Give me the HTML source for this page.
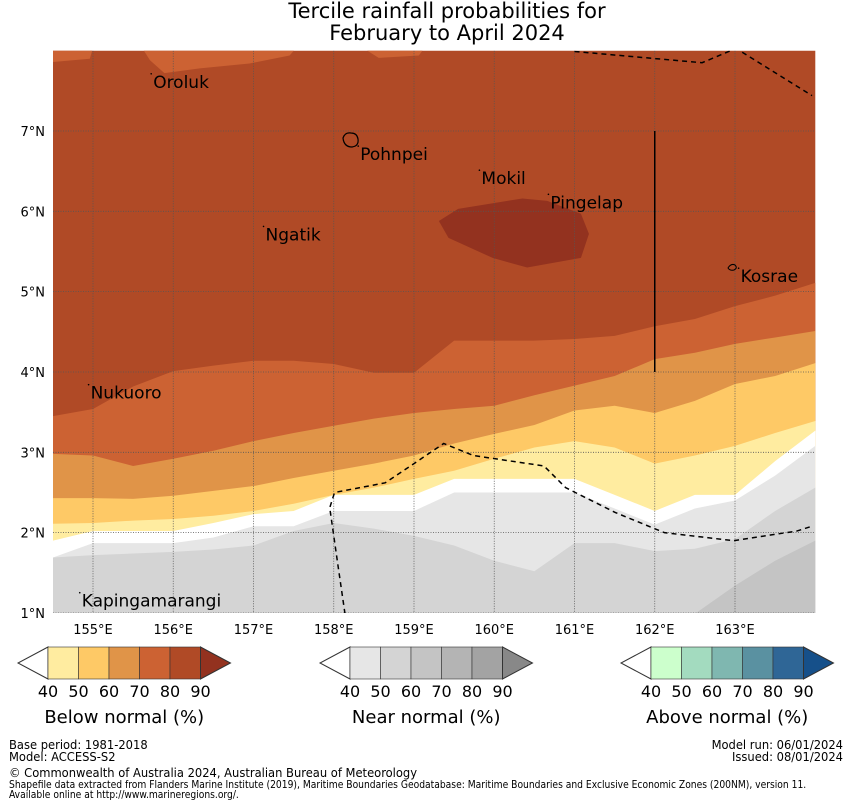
<!DOCTYPE html>
<html><head><meta charset="utf-8"><style>
body{margin:0;background:#fff;width:850px;height:804px;overflow:hidden;font-family:"DejaVu Sans","Liberation Sans",sans-serif}
svg{position:absolute;left:0;top:0}
.ft{font-family:"DejaVu Sans Condensed","DejaVu Sans","Liberation Sans",sans-serif}
</style></head><body>
<svg id="chart" width="850" height="804" viewBox="0 0 850 804">
<text x="447" y="18" font-size="21" text-anchor="middle">Tercile rainfall probabilities for</text>
<text x="447" y="40" font-size="21" text-anchor="middle">February to April 2024</text>
<defs><clipPath id="mapclip"><rect x="53" y="50.7" width="762.3" height="562.3"/></clipPath></defs>
<g id="map" clip-path="url(#mapclip)"></g>
<g id="overlay"></g>
<g id="legend"></g>
<g class="ft" font-size="12.8">
<text x="9" y="749">Base period: 1981-2018</text>
<text x="9" y="761">Model: ACCESS-S2</text>
<text x="843" y="749" text-anchor="end">Model run: 06/01/2024</text>
<text x="843" y="761" text-anchor="end">Issued: 08/01/2024</text>
<text x="9" y="777">© Commonwealth of Australia 2024, Australian Bureau of Meteorology</text>
<text x="9" y="788" font-size="10.2">Shapefile data extracted from Flanders Marine Institute (2019), Maritime Boundaries Geodatabase: Maritime Boundaries and Exclusive Economic Zones (200NM), version 11.</text>
<text x="9" y="798" font-size="10.2">Available online at http://www.marineregions.org/.</text>
</g>
</svg>
<script>
const lons=[154.5,155,155.5,156,156.5,157,157.5,158,158.5,159,159.5,160,160.5,161,161.5,162,162.5,163,163.5,164];
const b80=[3.45,3.54,3.82,4.01,4.08,4.14,4.14,4.10,3.99,3.99,4.39,4.39,4.39,4.41,4.45,4.57,4.66,4.82,4.95,5.11];
const b70=[2.98,2.96,2.83,2.92,3.02,3.14,3.24,3.33,3.42,3.49,3.54,3.58,3.71,3.83,3.95,4.16,4.24,4.35,4.43,4.51];
const b60=[2.43,2.43,2.42,2.46,2.52,2.58,2.68,2.77,2.86,2.96,3.11,3.23,3.34,3.52,3.58,3.49,3.64,3.85,3.95,4.11];
const b50=[2.11,2.12,2.15,2.17,2.21,2.27,2.36,2.47,2.56,2.67,2.77,2.92,3.06,3.14,3.06,2.86,2.96,3.08,3.24,3.39];
const bWhite=[1.90,2.02,2.02,2.02,2.12,2.23,2.27,2.47,2.47,2.47,2.67,2.67,2.67,2.67,2.47,2.27,2.47,2.47,2.89,3.27];
const bNear40=[1.69,1.87,1.87,1.87,1.94,2.08,2.08,2.27,2.27,2.27,2.50,2.50,2.50,2.50,2.30,2.10,2.30,2.40,2.71,3.08];
const bNear50=[1.69,1.72,1.74,1.76,1.79,1.84,2.02,2.12,2.05,1.96,1.84,1.65,1.52,1.87,1.87,1.77,1.80,1.92,2.27,2.56];
const bNear60=[0.9,0.9,0.9,0.9,0.9,0.9,0.9,0.9,0.9,0.9,0.9,0.9,0.9,0.9,0.9,0.9,0.99,1.34,1.65,1.90];
const topLobeA=[[154.4,8.1],[154.4,7.85],[154.96,7.9],[155.02,8.1]];
const topLobeB=[[155.57,8.1],[155.71,7.88],[155.89,7.72],[156.33,7.78],[156.95,7.84],[157.45,7.94],[157.59,8.1]];
const topLobeC=[[158.26,8.1],[158.56,7.91],[159.06,7.94],[159.18,8.1]];
const darkBlob=[[159.31,5.88],[159.55,6.03],[160.35,6.16],[160.66,6.13],[161.08,5.97],[161.18,5.72],[161.08,5.42],[160.41,5.30],[159.98,5.42],[159.43,5.67]];
const eezTop1=[[161.0,7.99],[162.59,7.85],[162.97,8.01]];
const eezTop2=[[163.09,7.98],[163.96,7.44]];
const eezBottom=[[158.14,0.99],[158.05,1.61],[157.95,2.31],[158.01,2.50],[158.64,2.62],[159.0,2.86],[159.37,3.11],[159.74,2.96],[160.62,2.83],[160.89,2.56],[161.51,2.25],[162.12,2.0],[162.98,1.90],[163.77,2.02],[163.96,2.08]];
const lonTicks=[155,156,157,158,159,160,161,162,163];
const latTicks=[1,2,3,4,5,6,7];
const places=[["Oroluk",155.75,7.6],["Pohnpei",158.33,6.7],["Mokil",159.84,6.4],["Pingelap",160.7,6.1],["Ngatik",157.15,5.7],["Kosrae",163.07,5.18],["Nukuoro",154.97,3.73],["Kapingamarangi",154.86,1.14]];
const legendTicks=["40","50","60","70","80","90"];
const belowColors=["#ffeca0","#fec966","#e09448","#cc6233","#b04a26","#93321f"];
const nearColors=["#e6e6e6","#d4d4d4","#c4c4c4","#b4b4b4","#a3a3a3","#888888"];
const aboveColors=["#ccffcc","#a3dbbf","#7fb7b0","#5a91a1","#2f6696","#16508a"];

const NS="http://www.w3.org/2000/svg";
const X=lon=>93+(lon-155)*80.25;
const Y=lat=>131+(7-lat)*80.33;
function mk(tag,attrs,parent){const e=document.createElementNS(NS,tag);for(const k in attrs)e.setAttribute(k,attrs[k]);parent.appendChild(e);return e;}
const map=document.getElementById('map'),ov=document.getElementById('overlay'),lg=document.getElementById('legend');
let r=mk('rect',{x:40,y:40,width:790,height:590,fill:'#b04a26'},map);


function band(arr,color,name){
  const pts=arr.map((v,i)=>X(lons[i])+','+Y(v));
  pts.push(X(164.5)+','+Y(arr[arr.length-1]),X(164.5)+','+Y(0.5),X(154)+','+Y(0.5),X(154)+','+Y(arr[0]));
  const p=mk('polygon',{points:pts.join(' '),fill:color},map);
  
  
}
function poly(arr,color,name){
  const p=mk('polygon',{points:arr.map(q=>X(q[0])+','+Y(q[1])).join(' '),fill:color},map);
  
  
}
poly(topLobeA,'#cc6233','top-region-70-80-a');
poly(topLobeB,'#cc6233','top-region-70-80-b');
poly(topLobeC,'#cc6233','top-region-70-80-c');
poly(darkBlob,'#93321f','region-above-90');
band(b80,'#cc6233','region-70-80');
band(b70,'#e09448','region-60-70');
band(b60,'#fec966','region-50-60');
band(b50,'#ffeca0','region-40-50');
band(bWhite,'#ffffff','region-no-dominant');
band(bNear40,'#e6e6e6','near-normal-40-50');
band(bNear50,'#d4d4d4','near-normal-50-60');
band(bNear60,'#c4c4c4','near-normal-60-70');
lonTicks.forEach(l=>{
  const g=mk('line',{x1:X(l),x2:X(l),y1:50.7,y2:613,stroke:'#555','stroke-width':0.8,'stroke-dasharray':'1,1.5'},map);
  
  
  const t=mk('text',{x:X(l),y:634,'font-size':13,'text-anchor':'middle'},ov);t.textContent=l+'°E';
  
  
});
latTicks.forEach(l=>{
  const g=mk('line',{x1:53,x2:815,y1:Y(l),y2:Y(l),stroke:'#555','stroke-width':0.8,'stroke-dasharray':'1,1.5'},map);
  
  
  const t=mk('text',{x:45,y:Y(l)+5,'font-size':13,'text-anchor':'end'},ov);t.textContent=l+'°N';
  
  
});
function dline(arr,name){
  const p=mk('polyline',{points:arr.map(q=>X(q[0])+','+Y(q[1])).join(' '),fill:'none',stroke:'#000','stroke-width':1.5,'stroke-dasharray':'5,4'},map);
  
  
}
dline(eezTop1,'eez-boundary-top');
dline(eezTop2,'eez-boundary-top-right');
dline(eezBottom,'eez-boundary-south');
let vl=mk('line',{x1:X(162),x2:X(162),y1:Y(7),y2:Y(4),stroke:'#000','stroke-width':1.5},map);


let isl=mk('path',{d:'M343,138 q2,-6 8,-5 q6,0 7,6 q1,7 -6,8 q-8,0 -9,-9z',fill:'none',stroke:'#000','stroke-width':1.2},map);


let isl2=mk('path',{d:'M728,268 q3,-5 7,-3 q3,3 -1,5 q-4,1 -6,-2z',fill:'none',stroke:'#000','stroke-width':1},map);


places.forEach(p=>{
  const t=mk('text',{x:X(p[1]),y:Y(p[2])+5,'font-size':17},ov);t.textContent=p[0];
  
  
  const d=mk('circle',{cx:X(p[1])-2,cy:Y(p[2])-9,r:0.8,fill:'#000'},ov);
  
  
});
let fr=mk('rect',{x:53,y:50.7,width:762.3,height:562.3,fill:'none',stroke:'none'},ov);


function colorbar(x0,colors,title,name){
  const w=30.5,y0=647,h=32,bx=x0+30;
  const g=mk('g',{},lg);
  
  
  const lt=mk('polygon',{points:`${bx},${y0} ${x0},${y0+h/2} ${bx},${y0+h}`,fill:'#fff',stroke:'#333','stroke-width':1},g);
  
  
  for(let i=0;i<5;i++){
    const c=mk('rect',{x:bx+i*w,y:y0,width:w,height:h,fill:colors[i],stroke:'#333','stroke-width':0.6},g);
    
    
  }
  const ex=bx+5*w;
  const rt=mk('polygon',{points:`${ex},${y0} ${ex+30},${y0+h/2} ${ex},${y0+h}`,fill:colors[5],stroke:'#333','stroke-width':1},g);
  
  
  legendTicks.forEach((t,i)=>{
    const tx=mk('text',{x:bx+i*w,y:697,'font-size':16,'text-anchor':'middle'},g);tx.textContent=t;
    
    
  });
  const tt=mk('text',{x:bx+2.5*w,y:723,'font-size':18,'text-anchor':'middle'},g);tt.textContent=title;
  
  
}
colorbar(18,belowColors,'Below normal (%)','below-normal-colorbar');
colorbar(320,nearColors,'Near normal (%)','near-normal-colorbar');
colorbar(621,aboveColors,'Above normal (%)','above-normal-colorbar');
</script>
</body></html>
